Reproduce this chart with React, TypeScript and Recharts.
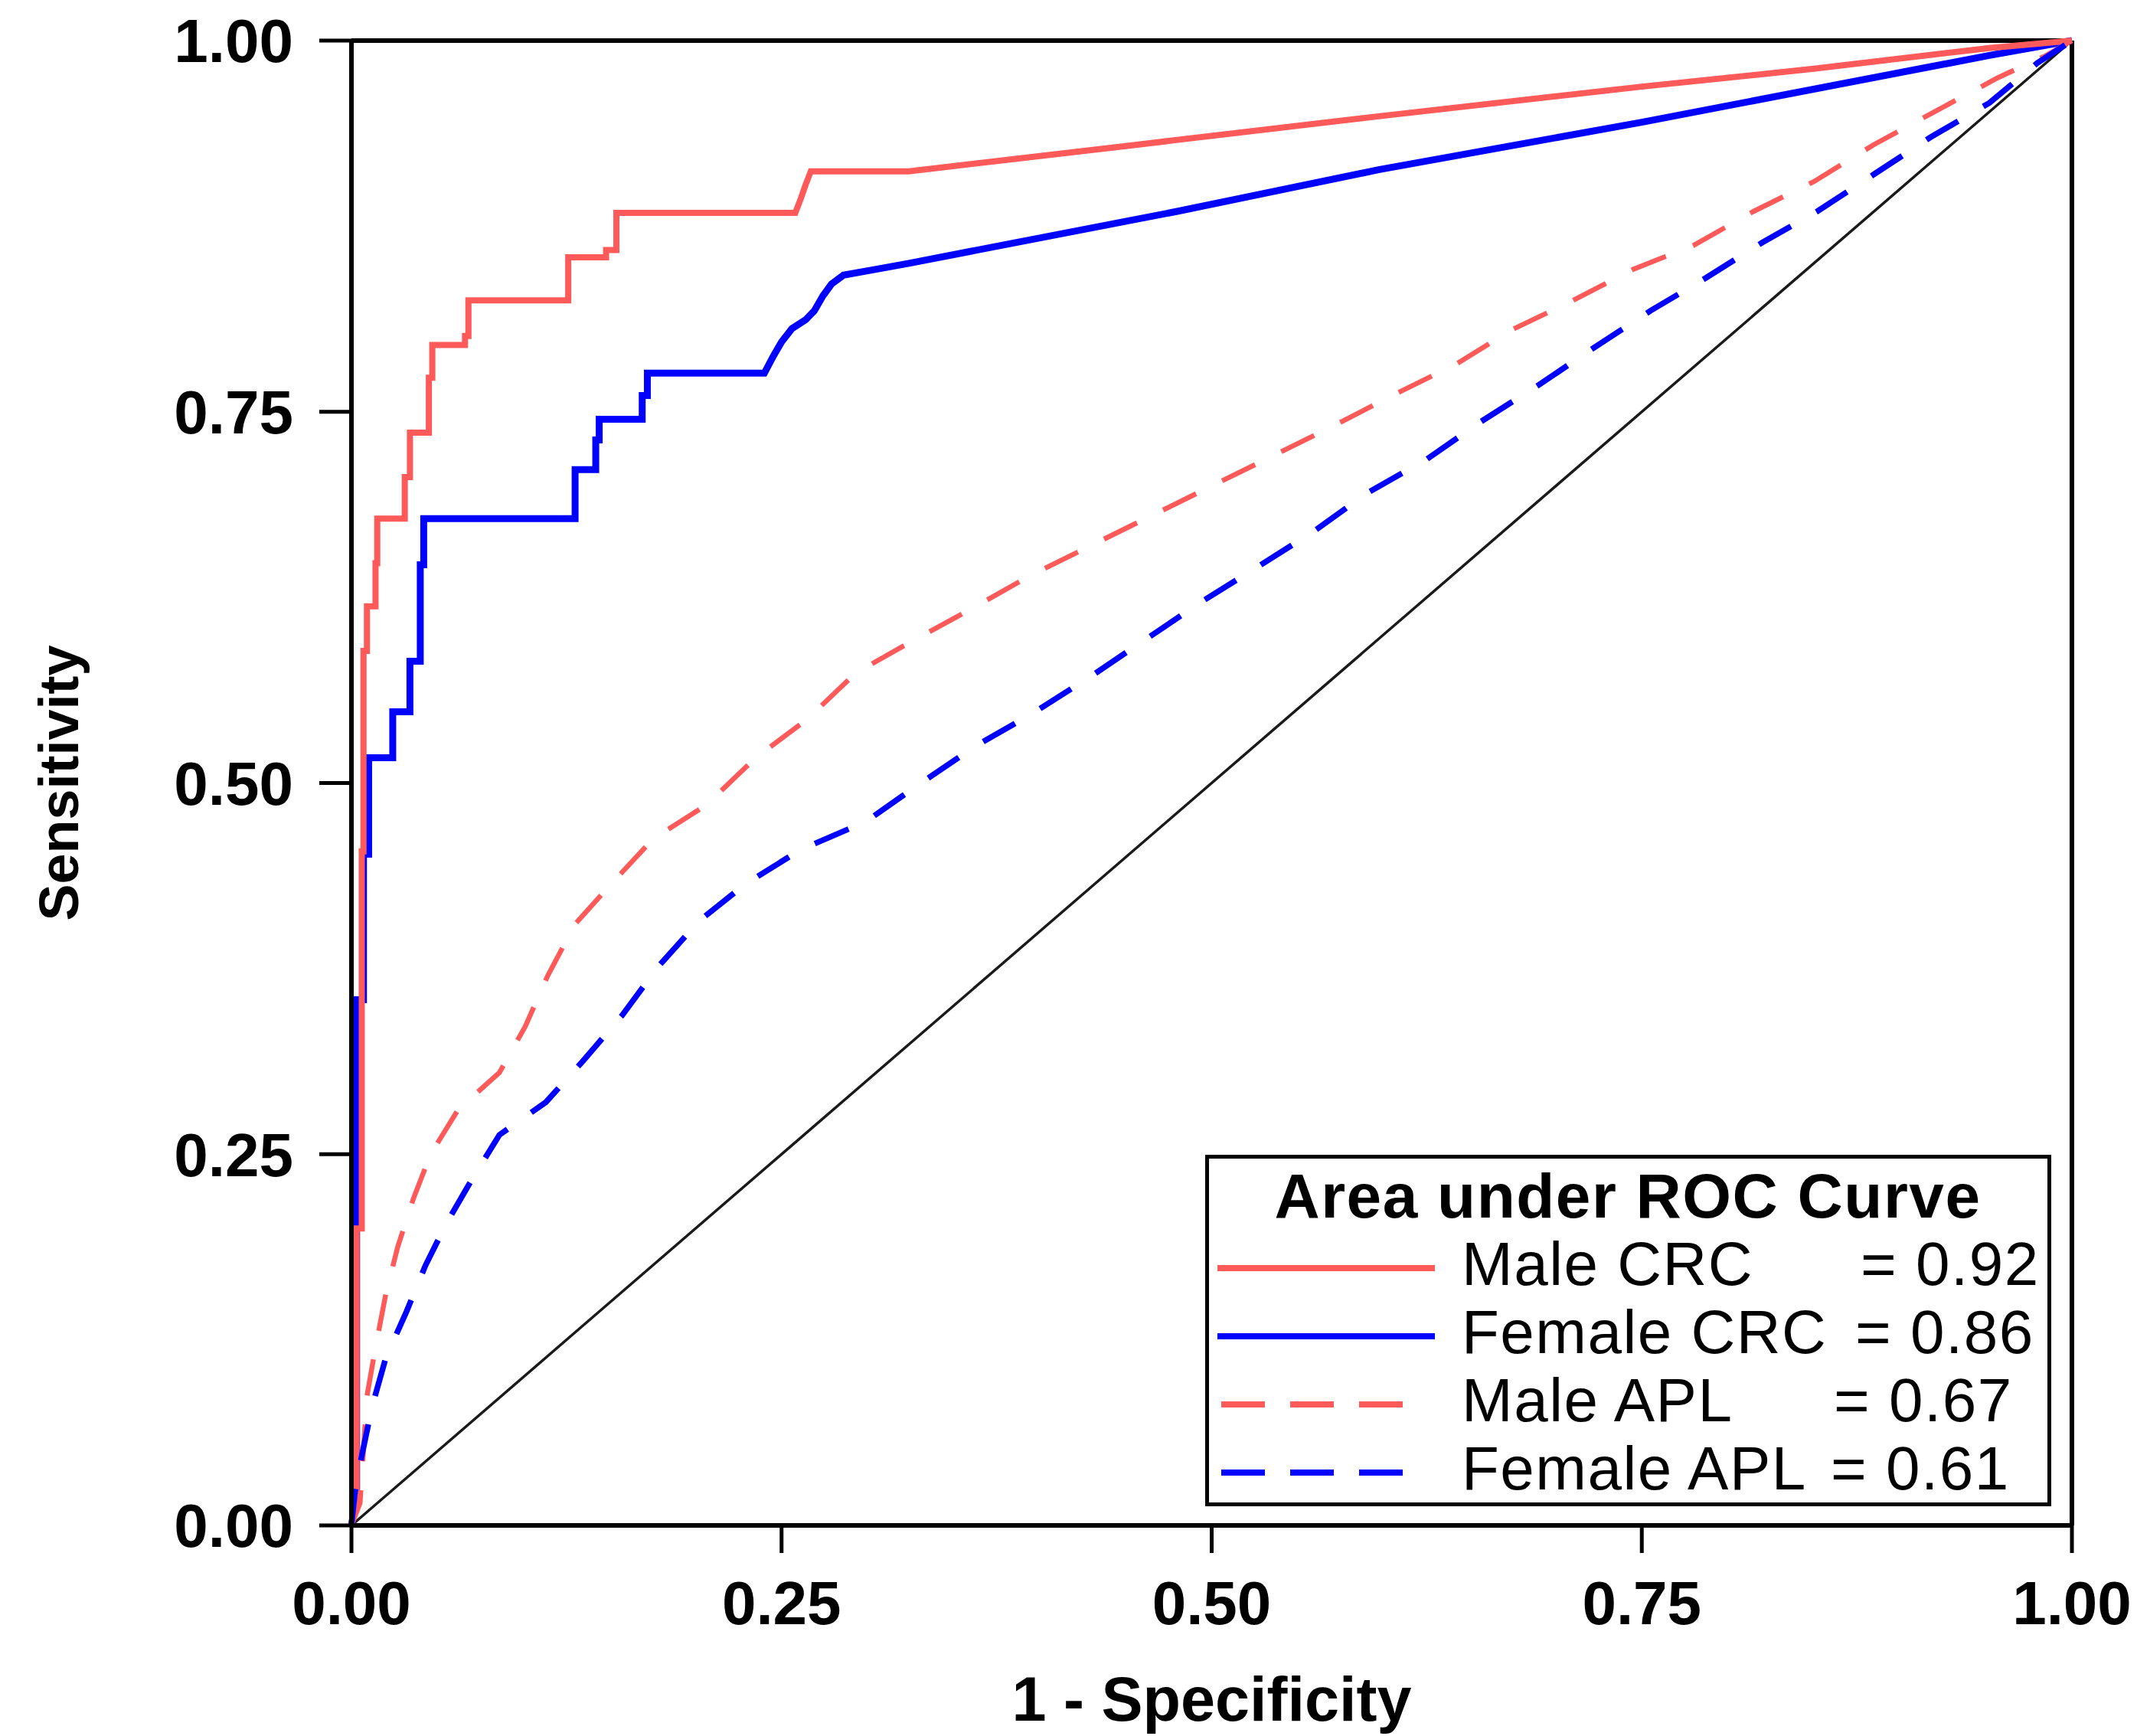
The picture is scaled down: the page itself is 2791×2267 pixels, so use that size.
import React from 'react';
import { LineChart, Line, XAxis, YAxis, ReferenceLine, Legend, Label } from 'recharts';

const FONT = '"Liberation Sans", Arial, Helvetica, sans-serif';
const RED = '#ff5a5a';
const BLUE = '#0000ff';

const axisTicks = [0, 0.25, 0.5, 0.75, 1];

// [1 - specificity, sensitivity]
const maleCrc = [
  [0, 0], [0.003, 0.02], [0.003, 0.2], [0.006, 0.2], [0.006, 0.454], [0.007, 0.454],
  [0.007, 0.589], [0.009, 0.589], [0.009, 0.619], [0.014, 0.619], [0.014, 0.648],
  [0.015, 0.648], [0.015, 0.678], [0.031, 0.678], [0.031, 0.706], [0.034, 0.706],
  [0.034, 0.736], [0.045, 0.736], [0.045, 0.773], [0.047, 0.773], [0.047, 0.795],
  [0.066, 0.795], [0.066, 0.801], [0.068, 0.801], [0.068, 0.825], [0.126, 0.825],
  [0.126, 0.854], [0.148, 0.854], [0.148, 0.859], [0.154, 0.859], [0.154, 0.884],
  [0.258, 0.884], [0.261, 0.893], [0.264, 0.903], [0.267, 0.912], [0.324, 0.912],
  [0.45, 0.929], [0.597, 0.949], [0.75, 0.969], [0.85, 0.981], [0.952, 0.995], [1, 1],
];

const femaleCrc = [
  [0, 0], [0.003, 0.02], [0.003, 0.354], [0.007, 0.354], [0.007, 0.452], [0.01, 0.452],
  [0.01, 0.517], [0.024, 0.517], [0.024, 0.548], [0.034, 0.548], [0.034, 0.582],
  [0.04, 0.582], [0.04, 0.647], [0.042, 0.647], [0.042, 0.678], [0.13, 0.678],
  [0.13, 0.711], [0.142, 0.711], [0.142, 0.731], [0.144, 0.731], [0.144, 0.745],
  [0.169, 0.745], [0.169, 0.761], [0.172, 0.761], [0.172, 0.776], [0.24, 0.776],
  [0.245, 0.787], [0.25, 0.797], [0.256, 0.806], [0.264, 0.812], [0.269, 0.818],
  [0.274, 0.828], [0.279, 0.836], [0.286, 0.842], [0.305, 0.846], [0.324, 0.85],
  [0.48, 0.885], [0.597, 0.913], [0.75, 0.945], [0.952, 0.99], [1, 1],
];

const maleApl = [
  [0, 0], [0.005, 0.015], [0.009, 0.087], [0.014, 0.12], [0.02, 0.156], [0.027, 0.188],
  [0.036, 0.22], [0.046, 0.25], [0.062, 0.28], [0.086, 0.305], [0.101, 0.336],
  [0.114, 0.37], [0.13, 0.405], [0.151, 0.432], [0.175, 0.462], [0.206, 0.485],
  [0.235, 0.517], [0.265, 0.543], [0.293, 0.574], [0.325, 0.595], [0.36, 0.617],
  [0.395, 0.64], [0.43, 0.66], [0.465, 0.68], [0.5, 0.7], [0.535, 0.72], [0.57, 0.74],
  [0.605, 0.761], [0.642, 0.782], [0.674, 0.805], [0.71, 0.825], [0.745, 0.846],
  [0.78, 0.862], [0.815, 0.885], [0.85, 0.905], [0.885, 0.93], [0.92, 0.952],
  [0.957, 0.975], [0.985, 0.99], [1, 1],
];

const femaleApl = [
  [0, 0], [0.002, 0.022], [0.006, 0.047], [0.012, 0.08], [0.02, 0.113], [0.032, 0.144],
  [0.043, 0.175], [0.055, 0.203], [0.07, 0.233], [0.086, 0.263], [0.113, 0.285],
  [0.134, 0.312], [0.157, 0.343], [0.178, 0.376], [0.202, 0.407], [0.229, 0.432],
  [0.261, 0.455], [0.299, 0.474], [0.331, 0.5], [0.363, 0.525], [0.396, 0.547],
  [0.43, 0.572], [0.462, 0.597], [0.494, 0.622], [0.526, 0.645], [0.56, 0.67],
  [0.59, 0.695], [0.625, 0.718], [0.656, 0.743], [0.69, 0.768], [0.722, 0.793],
  [0.755, 0.818], [0.787, 0.84], [0.82, 0.864], [0.852, 0.885], [0.885, 0.91],
  [0.918, 0.935], [0.952, 0.958], [0.98, 0.985], [1, 1],
];

const chanceLine = [[0, 0], [1, 1]];

const legendTitle = 'Area under ROC Curve';
const legendNames = ['Male CRC', 'Female CRC', 'Male APL', 'Female APL'];
const legendAuc = ['0.92', '0.86', '0.67', '0.61'];

const toPoints = (pairs: number[][]) => pairs.map(([x, y]) => ({ x, y }));

const series = [
  { key: 'maleCrc', data: toPoints(maleCrc), color: RED, dash: false, width: 8 },
  { key: 'femaleCrc', data: toPoints(femaleCrc), color: BLUE, dash: false, width: 9 },
  { key: 'maleApl', data: toPoints(maleApl), color: RED, dash: true, width: 6.5 },
  { key: 'femaleApl', data: toPoints(femaleApl), color: BLUE, dash: true, width: 7.5 },
];

// x where the "= value" part starts in each legend row
const eqX = [856, 849, 821, 817];

const renderLegend = () => (
  <svg width={1105} height={459} style={{ display: 'block', overflow: 'visible' }}>
    <rect x={2.5} y={2.5} width={1100} height={454} fill="#fff" stroke="#000" strokeWidth={5} />
    <text x={552} y={82} textAnchor="middle" fontFamily={FONT} fontWeight={700} fontSize={82}
      letterSpacing={1.5}>
      {legendTitle}
    </text>
    {series.map((s, i) => {
      const cy = 148 + i * 89;
      return (
        <g key={s.key}>
          <line
            x1={s.dash ? 21 : 16}
            x2={s.dash ? 259 : 300}
            y1={cy}
            y2={cy}
            stroke={s.color}
            strokeWidth={8}
            strokeDasharray={s.dash ? '57 33' : undefined}
          />
          <text x={335} y={cy + 22} fontFamily={FONT} fontSize={80} letterSpacing={1.5} fill="#000">
            {legendNames[i]}
          </text>
          <text x={eqX[i]} y={cy + 22} fontFamily={FONT} fontSize={80} letterSpacing={1.5} fill="#000">
            {`= ${legendAuc[i]}`}
          </text>
        </g>
      );
    })}
  </svg>
);

const tickStyle = { fill: '#000', fontSize: 80, fontWeight: 700, fontFamily: FONT };

const XTitle = (props: any) => {
  const vb = props.viewBox || { x: 459, y: 1992, width: 2247, height: 275 };
  return (
    <text x={vb.x + vb.width / 2} y={vb.y + vb.height - 20} textAnchor="middle"
      fontFamily={FONT} fontWeight={700} fontSize={81} fill="#000">
      1 - Specificity
    </text>
  );
};

const YTitle = (props: any) => {
  const vb = props.viewBox || { x: 0, y: 53, width: 459, height: 1939 };
  const cx = vb.x + 102;
  const cy = vb.y + vb.height / 2;
  return (
    <text x={cx} y={cy} transform={`rotate(-90 ${cx} ${cy})`} textAnchor="middle"
      fontFamily={FONT} fontWeight={700} fontSize={72} fill="#000">
      Sensitivity
    </text>
  );
};

export default function App() {
  return (
    <div style={{ position: 'absolute', left: 0, top: 0, background: '#fff' }}>
      <LineChart width={2791} height={2267} margin={{ top: 53, right: 85, bottom: 0, left: 0 }}>
        <XAxis
          type="number"
          dataKey="x"
          domain={[0, 1]}
          ticks={axisTicks}
          interval={0}
          tickFormatter={(v: number) => v.toFixed(2)}
          height={275}
          stroke="#000"
          axisLine={{ stroke: '#000', strokeWidth: 6 }}
          tickLine={{ stroke: '#000', strokeWidth: 5 }}
          tickSize={36}
          tickMargin={36}
          tick={tickStyle}
        >
          <Label content={XTitle} />
        </XAxis>
        <YAxis
          type="number"
          dataKey="y"
          domain={[0, 1]}
          ticks={axisTicks}
          interval={0}
          tickFormatter={(v: number) => v.toFixed(2)}
          width={459}
          stroke="#000"
          axisLine={{ stroke: '#000', strokeWidth: 6 }}
          tickLine={{ stroke: '#000', strokeWidth: 5 }}
          tickSize={42}
          tickMargin={34}
          tick={tickStyle}
        >
          <Label content={YTitle} />
        </YAxis>
        <ReferenceLine y={1} stroke="#000" strokeWidth={6} />
        <ReferenceLine x={1} stroke="#000" strokeWidth={6} />
        <Line
          data={toPoints(chanceLine)}
          dataKey="y"
          type="linear"
          stroke="#1a1a1a"
          strokeWidth={3.5}
          dot={false}
          activeDot={false}
          isAnimationActive={false}
          legendType="none"
        />
        {[series[1], series[0], series[2], series[3]].map((s) => (
          <Line
            key={s.key}
            data={s.data}
            dataKey="y"
            name={s.key}
            type="linear"
            stroke={s.color}
            strokeWidth={s.width}
            strokeDasharray={s.dash ? '48 38' : undefined}
            dot={false}
            activeDot={false}
            isAnimationActive={false}
          />
        ))}
        <Legend
          layout="vertical"
          align="center"
          verticalAlign="middle"
          content={renderLegend}
          wrapperStyle={{ left: 1574, top: 1508, width: 1105, height: 459 }}
        />
      </LineChart>
    </div>
  );
}
